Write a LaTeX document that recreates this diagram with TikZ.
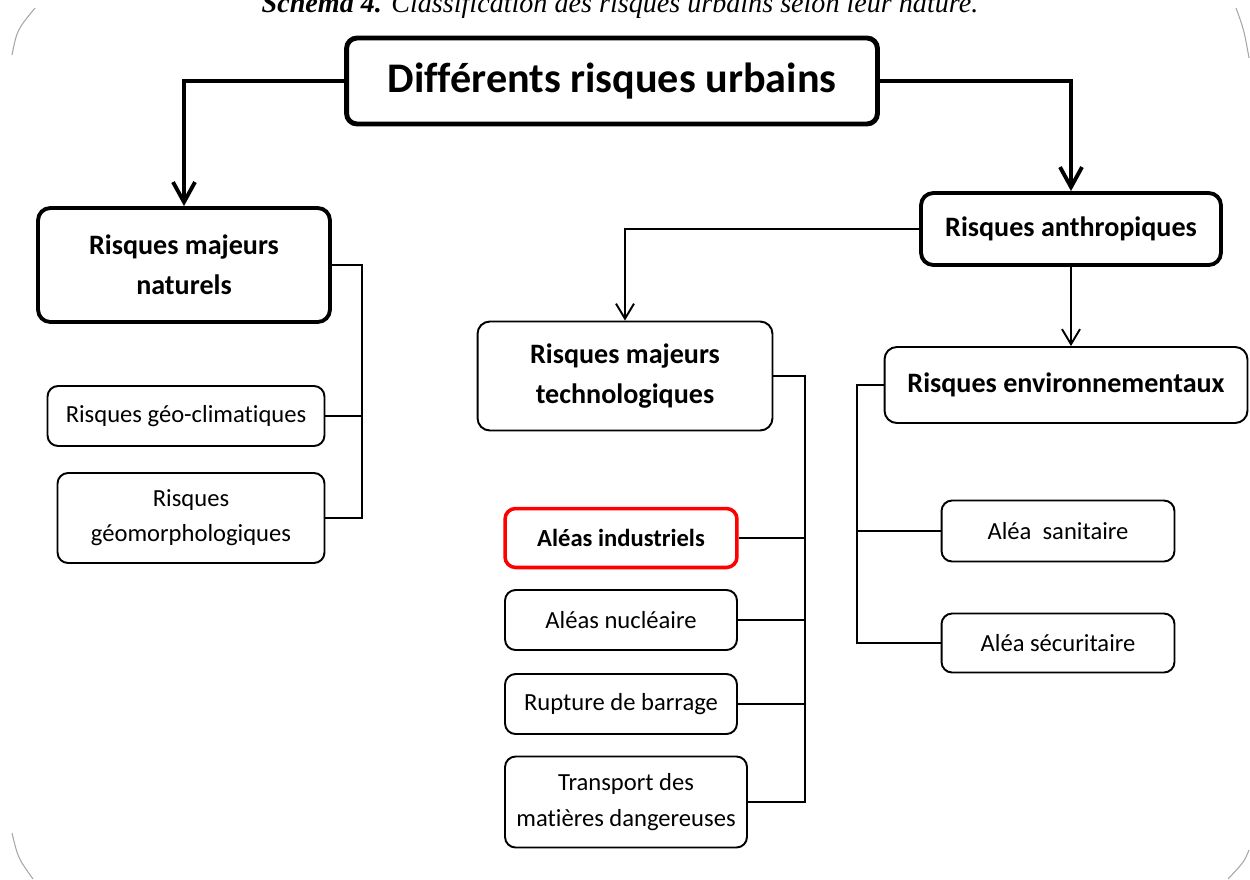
\documentclass[tikz,border=0pt]{standalone}
\usepackage{fontspec}
\setmainfont{Carlito}[Ligatures=NoCommon]
\newfontfamily\captionfont{Liberation Serif}
\usetikzlibrary{arrows.meta}

\begin{document}
\begin{tikzpicture}[
    x=0.02cm, y=-0.02cm,
    titleBox/.style={draw, line width=2.8pt, rounded corners=6pt, minimum width=10.62cm, minimum height=1.72cm, align=center, font=\bfseries\fontsize{24}{28}\selectfont},
    bigBox/.style={draw, line width=2.2pt, rounded corners=7pt, align=center, font=\bfseries\fontsize{16}{23}\selectfont},
    midBox/.style={draw, line width=1.1pt, rounded corners=7pt, align=center, font=\bfseries\fontsize{16}{23}\selectfont},
    subBox/.style={draw, line width=1.1pt, rounded corners=6pt, align=center, font=\fontsize{14}{20}\selectfont},
    redBox/.style={draw=red, line width=2pt, rounded corners=6pt, align=center, font=\bfseries\fontsize{14}{20}\selectfont},
    bigArrow/.style={line width=2.2pt, -{Straight Barb[length=4mm, width=4.4mm]}},
    smallArrow/.style={line width=1.1pt, -{Straight Barb[length=3mm, width=3.6mm]}},
    link/.style={line width=1.1pt}
  ]
  \useasboundingbox (0,0) rectangle (1250,879);

  % frame corners
  \draw[gray!70, line width=0.6pt] (12,55) .. controls (17,30) .. (35,8);
  \draw[gray!70, line width=0.6pt] (12,833) .. controls (18,858) .. (33,879);
  \draw[gray!70, line width=0.6pt] (1236,8) .. controls (1244,30) .. (1249,58);
  \draw[gray!70, line width=0.6pt] (1249,850) .. controls (1244,862) .. (1228,879);

  % caption
  \node[anchor=base, font=\captionfont\fontsize{16}{19}\selectfont\itshape] (caption) at (620,12) {\textbf{Schéma 4.} Classification des risques urbains selon leur nature.};

  % top
  \node[titleBox] (title) at (612,81) {Différents risques urbains};

  % natural risks
  \node[bigBox, minimum width=5.84cm, minimum height=2.28cm] (nat) at (184,265) {Risques majeurs\\naturels};
  \node[subBox, minimum width=5.54cm, minimum height=1.2cm] (geoclim) at (186,416) {Risques géo-climatiques};
  \node[subBox, minimum width=5.34cm, minimum height=1.8cm] (geomorph) at (191,518) {Risques\\géomorphologiques};

  % anthropic risks
  \node[bigBox, minimum width=6cm, minimum height=1.44cm] (anthro) at (1071,229) {Risques anthropiques};
  \node[midBox, minimum width=5.9cm, minimum height=2.18cm] (techno) at (625,376) {Risques majeurs\\technologiques};
  \node[midBox, minimum width=7.26cm, minimum height=1.52cm] (env) at (1066,385) {Risques environnementaux};

  % technological hazards
  \node[redBox, minimum width=4.64cm, minimum height=1.18cm] (indus) at (621,538) {Aléas industriels};
  \node[subBox, minimum width=4.64cm, minimum height=1.2cm] (nucl) at (621,620) {Aléas nucléaire};
  \node[subBox, minimum width=4.64cm, minimum height=1.2cm] (barrage) at (621,704) {Rupture de barrage};
  \node[subBox, minimum width=4.84cm, minimum height=1.82cm] (transport) at (626,802) {Transport des\\matières dangereuses};

  % environmental hazards
  \node[subBox, minimum width=4.66cm, minimum height=1.22cm] (sanit) at (1058,531) {Aléa~~sanitaire};
  \node[subBox, minimum width=4.66cm, minimum height=1.18cm] (secur) at (1058,643) {Aléa sécuritaire};

  % arrows
  \draw[bigArrow] (title.west) -| (nat.north);
  \draw[bigArrow] (title.east) -| (anthro.north);
  \draw[smallArrow] (anthro.west) -| (techno.north);
  \draw[smallArrow] (anthro.south) -- (anthro.south |- env.north);

  % brackets
  \coordinate (natBus) at (362,0);
  \draw[link] (nat.east) -- (nat.east -| natBus) -- (geomorph.east -| natBus) -- (geomorph.east);
  \draw[link] (geoclim.east) -- (geoclim.east -| natBus);

  \coordinate (techBus) at (805,0);
  \draw[link] (techno.east) -- (techno.east -| techBus) -- (transport.east -| techBus) -- (transport.east);
  \draw[link] (indus.east) -- (indus.east -| techBus);
  \draw[link] (nucl.east) -- (nucl.east -| techBus);
  \draw[link] (barrage.east) -- (barrage.east -| techBus);

  \coordinate (envBus) at (857,0);
  \draw[link] (env.west) -- (env.west -| envBus) -- (secur.west -| envBus) -- (secur.west);
  \draw[link] (sanit.west) -- (sanit.west -| envBus);

\end{tikzpicture}
\end{document}
